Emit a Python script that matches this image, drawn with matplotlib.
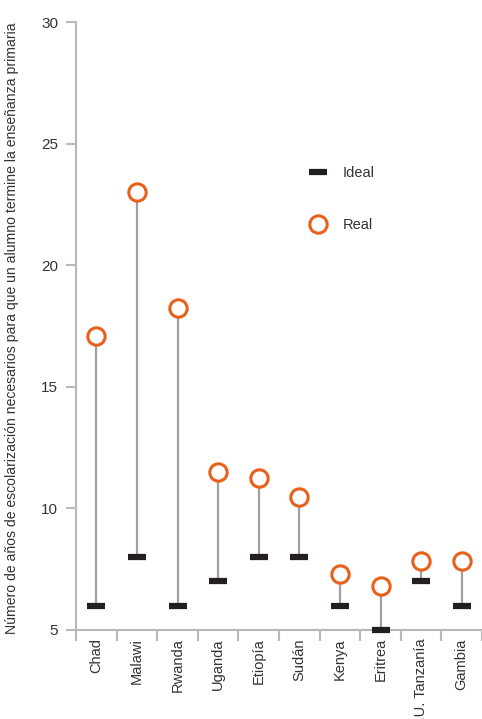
import matplotlib
matplotlib.use("Agg")
import matplotlib.pyplot as plt
import numpy as np

# datos
paises = ["Chad", "Malawi", "Rwanda", "Uganda", "Etiopía", "Sudán",
          "Kenya", "Eritrea", "R.U. Tanzanía", "Gambia"]
ideal = [6, 8, 6, 7, 8, 8, 6, 5, 7, 6]
real = [17.1, 23.0, 18.25, 11.5, 11.25, 10.45, 7.3, 6.8, 7.85, 7.85]
yticks = [5, 10, 15, 20, 25, 30]

naranja = "#e8601c"
gris = "#a0a0a0"
negro = "#231f20"

plt.rcParams['font.family'] = ['Liberation Sans', 'DejaVu Sans']

fig = plt.figure(figsize=(4.82, 7.19), dpi=100)
ax = fig.add_axes([0.158, 0.124, 0.842, 0.845])

x = np.arange(len(paises))
# lineas verticales
ax.vlines(x, ideal, real, color=gris, lw=1.6, zorder=1)
l1, = ax.plot(x, ideal, ls="none", marker="_", ms=13, mew=4.5, color=negro,
              zorder=3, clip_on=False, label="Ideal")
l2, = ax.plot(x, real, ls="none", marker="o", ms=12.5, mew=2.2, mfc="white",
              mec=naranja, zorder=4, label="Real")

ax.set_xlim(-0.5, len(paises) - 0.5)
ax.set_ylim(5, 30)
ax.set_yticks(yticks)
ax.set_xticks(x)
ax.set_xticklabels(paises, rotation=90, fontsize=10.5, color="#333333")
ax.set_xticks(np.arange(len(paises) + 1) - 0.5, minor=True)
ax.tick_params(axis="x", which="major", length=0, pad=6)
ax.tick_params(axis="x", which="minor", length=8, width=1.5, color="#b8b8b8")
ax.tick_params(axis="y", length=7, width=1.5, color="#b8b8b8",
               labelsize=11, labelcolor="#333333", pad=6)

for s in ["top", "right"]:
    ax.spines[s].set_visible(False)
for s in ["left", "bottom"]:
    ax.spines[s].set_color("#b8b8b8")
    ax.spines[s].set_linewidth(1.5)

ax.set_ylabel("Número de años de escolarización necesarios para que un alumno termine la enseñanza primaria",
              fontsize=10.1, color="#333333", labelpad=9)
ax.yaxis.set_label_coords(-0.14, 0.497)

leg = ax.legend(handles=[l1, l2], loc="upper left", bbox_to_anchor=(0.545, 0.785),
                frameon=False, labelspacing=2.6, fontsize=10.5, handlelength=1.0,
                handletextpad=1.2, numpoints=1)
for t in leg.get_texts():
    t.set_color("#333333")

fig.savefig("out.png", dpi=100)
